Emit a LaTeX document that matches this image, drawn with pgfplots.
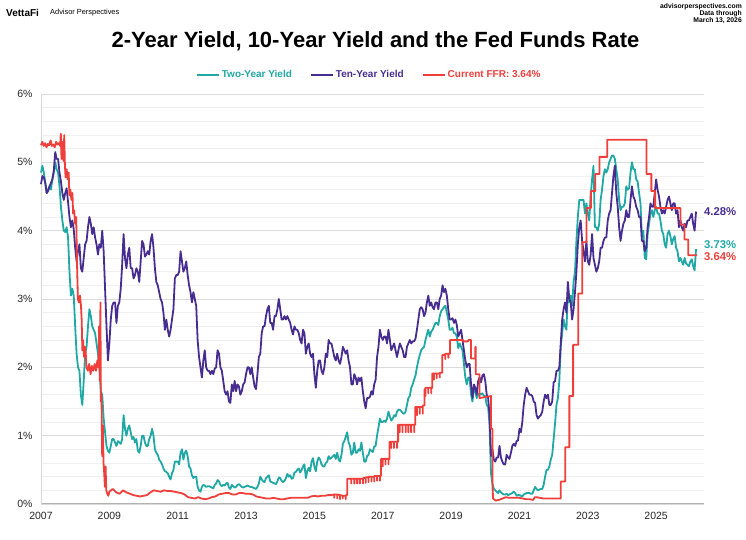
\documentclass[border=0pt]{standalone}
\usepackage{fontspec}
\setmainfont{Liberation Sans}
\usepackage{pgfplots}
\usepackage{pgfplotstable}
\pgfplotsset{compat=1.18}
\definecolor{cteal}{RGB}{32,168,165}
\definecolor{cpurple}{RGB}{72,45,145}
\definecolor{cred}{RGB}{240,62,58}

% Ten-year yield, semi-monthly from Jan 2007
\pgfplotstableread[row sep=\\]{y\\
4.68\\4.80\\4.78\\4.70\\4.55\\4.58\\4.65\\4.70\\4.75\\4.88\\5.15\\5.05\\5.05\\4.85\\4.72\\4.55\\4.45\\4.55\\4.62\\4.42\\4.20\\4.05\\4.15\\4.02\\
3.75\\3.55\\3.70\\3.80\\3.45\\3.40\\3.60\\3.80\\3.85\\4.05\\4.20\\4.10\\3.95\\4.05\\3.90\\3.80\\3.65\\3.80\\3.75\\4.00\\3.70\\3.15\\2.60\\2.10\\
2.35\\2.70\\2.90\\2.95\\2.95\\2.65\\2.90\\2.95\\3.15\\3.50\\3.95\\3.60\\3.45\\3.65\\3.75\\3.45\\3.45\\3.30\\3.35\\3.45\\3.40\\3.25\\3.55\\3.85\\
3.80\\3.62\\3.65\\3.70\\3.65\\3.85\\3.95\\3.75\\3.45\\3.25\\3.20\\3.10\\3.00\\2.95\\2.80\\2.55\\2.70\\2.55\\2.45\\2.55\\2.70\\2.85\\3.30\\3.35\\
3.35\\3.40\\3.70\\3.55\\3.40\\3.45\\3.55\\3.35\\3.20\\3.10\\2.95\\3.10\\3.00\\2.90\\2.40\\2.15\\2.00\\1.85\\2.10\\2.25\\2.00\\1.95\\1.95\\1.90\\
1.95\\1.90\\1.98\\2.00\\2.25\\2.20\\2.00\\1.95\\1.80\\1.65\\1.60\\1.65\\1.50\\1.48\\1.75\\1.65\\1.80\\1.65\\1.75\\1.72\\1.60\\1.65\\1.75\\1.78\\
1.90\\2.00\\2.00\\1.90\\2.00\\1.85\\1.72\\1.68\\1.90\\2.15\\2.20\\2.50\\2.60\\2.60\\2.75\\2.85\\2.90\\2.65\\2.65\\2.55\\2.75\\2.75\\2.85\\3.00\\
2.85\\2.70\\2.70\\2.75\\2.70\\2.75\\2.70\\2.65\\2.55\\2.48\\2.60\\2.55\\2.55\\2.50\\2.40\\2.35\\2.55\\2.50\\2.20\\2.30\\2.35\\2.20\\2.15\\2.20\\
1.90\\1.70\\1.95\\2.10\\2.10\\1.95\\1.90\\2.00\\2.20\\2.15\\2.40\\2.35\\2.35\\2.25\\2.15\\2.10\\2.20\\2.10\\2.05\\2.15\\2.30\\2.25\\2.20\\2.25\\
2.10\\2.00\\1.75\\1.75\\1.90\\1.85\\1.75\\1.85\\1.80\\1.85\\1.65\\1.50\\1.40\\1.55\\1.55\\1.57\\1.65\\1.60\\1.75\\1.82\\2.15\\2.30\\2.55\\2.45\\
2.40\\2.45\\2.45\\2.35\\2.55\\2.40\\2.25\\2.30\\2.35\\2.25\\2.15\\2.25\\2.35\\2.30\\2.25\\2.15\\2.15\\2.30\\2.35\\2.40\\2.35\\2.38\\2.38\\2.42\\
2.55\\2.70\\2.85\\2.88\\2.85\\2.75\\2.80\\2.95\\3.05\\2.90\\2.95\\2.88\\2.85\\2.95\\2.95\\2.85\\3.00\\3.05\\3.20\\3.10\\3.15\\3.05\\2.85\\2.70\\
2.70\\2.72\\2.65\\2.70\\2.62\\2.45\\2.50\\2.55\\2.40\\2.25\\2.10\\2.00\\2.05\\2.05\\1.75\\1.55\\1.75\\1.70\\1.60\\1.80\\1.85\\1.78\\1.88\\1.90\\
1.80\\1.60\\1.55\\1.30\\0.70\\0.80\\0.65\\0.62\\0.68\\0.68\\0.85\\0.68\\0.62\\0.58\\0.58\\0.72\\0.68\\0.66\\0.75\\0.85\\0.88\\0.85\\0.92\\0.93\\
1.10\\1.05\\1.20\\1.45\\1.60\\1.70\\1.65\\1.60\\1.60\\1.58\\1.50\\1.48\\1.30\\1.25\\1.28\\1.30\\1.35\\1.50\\1.60\\1.55\\1.60\\1.45\\1.45\\1.50\\
1.78\\1.80\\1.95\\1.95\\2.00\\2.35\\2.70\\2.85\\2.95\\2.80\\3.25\\3.00\\2.95\\2.70\\2.85\\3.10\\3.40\\3.80\\4.05\\4.15\\3.85\\3.70\\3.55\\3.85\\
3.55\\3.50\\3.65\\3.95\\3.60\\3.50\\3.40\\3.45\\3.55\\3.75\\3.75\\3.85\\3.90\\3.90\\4.15\\4.25\\4.30\\4.55\\4.80\\4.95\\4.55\\4.35\\4.05\\3.85\\
4.00\\4.10\\4.15\\4.30\\4.20\\4.20\\4.45\\4.65\\4.50\\4.45\\4.35\\4.30\\4.20\\4.20\\3.85\\3.85\\3.70\\3.75\\4.05\\4.20\\4.40\\4.35\\4.35\\4.55\\
4.75\\4.60\\4.50\\4.35\\4.25\\4.30\\4.25\\4.35\\4.45\\4.50\\4.40\\4.30\\4.40\\4.40\\4.25\\4.30\\4.05\\4.15\\4.05\\4.00\\4.10\\4.05\\4.15\\4.15\\
4.20\\4.25\\4.10\\4.00\\4.28\\
}\tenyr

% Two-year yield, semi-monthly from Jan 2007
\pgfplotstableread[row sep=\\]{y\\
4.85\\4.95\\4.85\\4.70\\4.55\\4.60\\4.65\\4.60\\4.75\\4.85\\5.00\\4.90\\4.85\\4.65\\4.35\\4.15\\4.00\\3.98\\4.05\\3.90\\3.40\\3.05\\3.15\\3.05\\
2.60\\2.20\\2.00\\1.95\\1.60\\1.45\\1.80\\2.20\\2.30\\2.60\\2.85\\2.75\\2.60\\2.55\\2.50\\2.35\\2.20\\2.00\\1.65\\1.60\\1.25\\1.05\\0.85\\0.78\\
0.75\\0.85\\0.95\\0.95\\0.90\\0.85\\0.92\\0.90\\0.88\\0.95\\1.30\\1.10\\1.00\\1.10\\1.15\\1.05\\0.95\\0.98\\0.90\\0.95\\0.78\\0.75\\0.85\\1.00\\
1.00\\0.90\\0.85\\0.85\\0.95\\1.00\\1.10\\1.00\\0.80\\0.75\\0.72\\0.65\\0.62\\0.58\\0.52\\0.48\\0.47\\0.45\\0.40\\0.36\\0.45\\0.50\\0.62\\0.62\\
0.62\\0.58\\0.75\\0.80\\0.65\\0.75\\0.78\\0.70\\0.55\\0.52\\0.42\\0.38\\0.40\\0.40\\0.25\\0.20\\0.18\\0.25\\0.28\\0.27\\0.25\\0.26\\0.26\\0.25\\
0.24\\0.23\\0.28\\0.30\\0.35\\0.33\\0.28\\0.26\\0.28\\0.27\\0.30\\0.31\\0.24\\0.22\\0.28\\0.26\\0.24\\0.25\\0.28\\0.29\\0.27\\0.25\\0.24\\0.25\\
0.26\\0.27\\0.26\\0.25\\0.25\\0.24\\0.23\\0.22\\0.25\\0.30\\0.40\\0.36\\0.33\\0.32\\0.38\\0.40\\0.42\\0.33\\0.32\\0.31\\0.30\\0.29\\0.33\\0.39\\
0.38\\0.34\\0.32\\0.34\\0.38\\0.44\\0.40\\0.42\\0.37\\0.38\\0.46\\0.47\\0.50\\0.52\\0.46\\0.50\\0.55\\0.58\\0.38\\0.48\\0.53\\0.48\\0.62\\0.67\\
0.55\\0.48\\0.62\\0.68\\0.65\\0.58\\0.55\\0.55\\0.60\\0.62\\0.70\\0.66\\0.68\\0.70\\0.72\\0.66\\0.75\\0.65\\0.62\\0.72\\0.88\\0.92\\0.98\\1.05\\
0.90\\0.85\\0.72\\0.75\\0.90\\0.75\\0.75\\0.80\\0.78\\0.90\\0.75\\0.62\\0.62\\0.70\\0.72\\0.80\\0.78\\0.76\\0.84\\0.85\\1.00\\1.12\\1.25\\1.20\\
1.20\\1.22\\1.20\\1.25\\1.35\\1.28\\1.22\\1.25\\1.30\\1.28\\1.35\\1.38\\1.38\\1.36\\1.33\\1.32\\1.35\\1.45\\1.55\\1.58\\1.70\\1.75\\1.82\\1.88\\
2.00\\2.10\\2.18\\2.25\\2.28\\2.30\\2.40\\2.48\\2.55\\2.45\\2.52\\2.55\\2.60\\2.65\\2.65\\2.62\\2.75\\2.82\\2.85\\2.88\\2.90\\2.80\\2.70\\2.55\\
2.55\\2.58\\2.50\\2.50\\2.45\\2.28\\2.35\\2.30\\2.25\\2.05\\1.85\\1.75\\1.85\\1.85\\1.60\\1.50\\1.70\\1.65\\1.55\\1.60\\1.62\\1.60\\1.62\\1.58\\
1.58\\1.45\\1.42\\1.15\\0.45\\0.30\\0.22\\0.20\\0.18\\0.16\\0.20\\0.17\\0.15\\0.14\\0.14\\0.15\\0.13\\0.14\\0.15\\0.16\\0.18\\0.16\\0.12\\0.13\\
0.13\\0.12\\0.11\\0.14\\0.15\\0.16\\0.16\\0.16\\0.15\\0.15\\0.20\\0.25\\0.22\\0.20\\0.21\\0.22\\0.22\\0.28\\0.40\\0.50\\0.50\\0.55\\0.65\\0.72\\
0.95\\1.18\\1.45\\1.55\\1.80\\2.30\\2.50\\2.70\\2.60\\2.55\\3.10\\2.95\\3.05\\2.90\\3.25\\3.40\\3.85\\4.20\\4.45\\4.45\\4.45\\4.45\\4.25\\4.40\\
4.25\\4.15\\4.50\\4.75\\4.95\\4.05\\4.05\\4.00\\4.10\\4.45\\4.60\\4.80\\4.90\\4.85\\4.90\\5.00\\5.05\\5.10\\5.10\\5.05\\4.90\\4.75\\4.45\\4.30\\
4.35\\4.35\\4.40\\4.65\\4.60\\4.62\\4.85\\5.00\\4.90\\4.90\\4.75\\4.72\\4.55\\4.40\\3.90\\4.00\\3.60\\3.58\\3.95\\4.10\\4.25\\4.30\\4.20\\4.30\\
4.35\\4.25\\4.25\\4.15\\4.00\\3.95\\3.80\\3.75\\3.95\\4.00\\3.92\\3.80\\3.88\\3.92\\3.75\\3.70\\3.55\\3.60\\3.55\\3.50\\3.60\\3.52\\3.50\\3.48\\
3.55\\3.58\\3.48\\3.42\\3.73\\
}\twoyr

% Fed funds rate
\pgfplotstableread{
x y
2007.00 5.25
2007.04 5.30
2007.08 5.24
2007.12 5.28
2007.16 5.22
2007.20 5.27
2007.24 5.25
2007.28 5.32
2007.32 5.24
2007.36 5.26
2007.40 5.22
2007.44 5.30
2007.48 5.26
2007.52 5.28
2007.56 5.24
2007.58 5.42
2007.60 5.05
2007.62 5.30
2007.64 5.10
2007.66 5.02
2007.68 5.40
2007.70 4.95
2007.72 4.78
2007.75 4.90
2007.78 4.75
2007.81 4.85
2007.83 4.52
2007.86 4.60
2007.89 4.45
2007.92 4.55
2007.94 4.25
2007.97 4.30
2008.00 4.10
2008.03 4.20
2008.055 3.50
2008.07 3.20
2008.08 3.00
2008.11 2.95
2008.14 3.05
2008.17 2.90
2008.19 2.70
2008.21 2.25
2008.23 2.40
2008.26 2.15
2008.29 2.30
2008.31 2.20
2008.33 2.00
2008.37 1.95
2008.41 2.05
2008.45 1.90
2008.49 2.02
2008.53 1.95
2008.57 2.05
2008.61 1.95
2008.65 2.10
2008.68 2.00
2008.70 2.60
2008.72 1.80
2008.74 2.95
2008.75 1.50
2008.77 1.60
2008.79 0.70
2008.81 1.15
2008.83 0.60
2008.85 0.45
2008.87 0.25
2008.89 0.55
2008.91 0.20
2008.94 0.15
2008.97 0.12
2009.00 0.18
2009.10 0.22
2009.20 0.17
2009.30 0.15
2009.40 0.20
2009.50 0.17
2009.60 0.15
2009.70 0.13
2009.80 0.12
2009.90 0.11
2010.00 0.12
2010.10 0.13
2010.20 0.17
2010.30 0.20
2010.40 0.19
2010.50 0.18
2010.60 0.20
2010.70 0.19
2010.80 0.19
2010.90 0.18
2011.00 0.17
2011.10 0.16
2011.20 0.14
2011.30 0.10
2011.40 0.09
2011.50 0.08
2011.60 0.10
2011.70 0.08
2011.80 0.07
2011.90 0.08
2012.00 0.10
2012.10 0.11
2012.20 0.14
2012.30 0.15
2012.40 0.16
2012.50 0.16
2012.60 0.14
2012.70 0.14
2012.80 0.16
2012.90 0.16
2013.00 0.15
2013.10 0.15
2013.20 0.14
2013.30 0.11
2013.40 0.10
2013.50 0.09
2013.60 0.08
2013.70 0.08
2013.80 0.09
2013.90 0.08
2014.00 0.07
2014.10 0.07
2014.20 0.08
2014.30 0.09
2014.40 0.09
2014.50 0.09
2014.60 0.09
2014.70 0.09
2014.80 0.09
2014.90 0.11
2015.00 0.12
2015.10 0.11
2015.20 0.12
2015.30 0.12
2015.40 0.13
2015.50 0.13
2015.58 0.14
2015.58 0.09
2015.58 0.14
2015.67 0.14
2015.67 0.08
2015.67 0.14
2015.75 0.13
2015.75 0.07
2015.75 0.13
2015.83 0.12
2015.83 0.08
2015.83 0.12
2015.92 0.12
2015.92 0.07
2015.92 0.13
2015.96 0.13
2015.96 0.37
2016.08 0.37
2016.08 0.30
2016.08 0.37
2016.17 0.37
2016.17 0.30
2016.17 0.37
2016.25 0.37
2016.25 0.30
2016.25 0.37
2016.33 0.37
2016.33 0.30
2016.33 0.37
2016.42 0.37
2016.42 0.30
2016.42 0.38
2016.50 0.38
2016.50 0.31
2016.50 0.39
2016.58 0.39
2016.58 0.32
2016.58 0.40
2016.67 0.40
2016.67 0.33
2016.67 0.40
2016.75 0.40
2016.75 0.33
2016.75 0.41
2016.83 0.41
2016.83 0.34
2016.83 0.41
2016.92 0.41
2016.92 0.34
2016.92 0.41
2016.95 0.41
2016.95 0.66
2017.00 0.66
2017.00 0.55
2017.00 0.66
2017.08 0.66
2017.08 0.58
2017.08 0.66
2017.17 0.66
2017.17 0.58
2017.17 0.66
2017.20 0.66
2017.20 0.91
2017.25 0.91
2017.25 0.82
2017.25 0.91
2017.33 0.91
2017.33 0.82
2017.33 0.91
2017.42 0.91
2017.42 0.82
2017.42 0.91
2017.45 0.91
2017.45 1.16
2017.50 1.16
2017.50 1.05
2017.50 1.16
2017.58 1.16
2017.58 1.05
2017.58 1.16
2017.67 1.16
2017.67 1.05
2017.67 1.16
2017.75 1.16
2017.75 1.05
2017.75 1.16
2017.83 1.16
2017.83 1.05
2017.83 1.16
2017.92 1.16
2017.92 1.05
2017.92 1.16
2017.95 1.16
2017.95 1.42
2018.00 1.42
2018.00 1.30
2018.00 1.42
2018.08 1.42
2018.08 1.32
2018.08 1.42
2018.17 1.42
2018.17 1.32
2018.17 1.44
2018.22 1.44
2018.22 1.68
2018.25 1.68
2018.25 1.58
2018.25 1.70
2018.33 1.70
2018.33 1.62
2018.33 1.70
2018.42 1.70
2018.42 1.62
2018.42 1.70
2018.45 1.70
2018.45 1.91
2018.50 1.91
2018.50 1.82
2018.50 1.91
2018.58 1.91
2018.58 1.84
2018.58 1.91
2018.67 1.91
2018.67 1.85
2018.67 1.92
2018.74 1.92
2018.74 2.18
2018.83 2.18
2018.83 2.12
2018.83 2.20
2018.92 2.20
2018.92 2.14
2018.92 2.20
2018.97 2.20
2018.97 2.40
2019.35 2.40
2019.35 2.38
2019.50 2.38
2019.50 2.40
2019.58 2.40
2019.58 2.13
2019.71 2.13
2019.71 2.30
2019.72 2.30
2019.72 1.90
2019.83 1.90
2019.83 1.55
2020.17 1.58
2020.17 1.10
2020.21 1.10
2020.21 0.25
2020.23 0.08
2020.30 0.05
2020.40 0.06
2020.50 0.08
2020.60 0.10
2020.70 0.09
2020.80 0.09
2020.90 0.09
2021.00 0.09
2021.10 0.08
2021.20 0.07
2021.30 0.07
2021.40 0.06
2021.45 0.10
2021.50 0.10
2021.60 0.09
2021.70 0.08
2021.80 0.08
2021.90 0.08
2022.00 0.08
2022.10 0.08
2022.21 0.08
2022.21 0.33
2022.34 0.33
2022.34 0.83
2022.46 0.83
2022.46 1.58
2022.57 1.58
2022.57 2.33
2022.72 2.33
2022.72 3.08
2022.84 3.08
2022.84 3.83
2022.96 3.83
2022.96 4.33
2023.09 4.33
2023.09 4.58
2023.22 4.58
2023.22 4.83
2023.34 4.83
2023.34 5.08
2023.57 5.08
2023.57 5.33
2024.72 5.33
2024.72 4.83
2024.86 4.83
2024.86 4.58
2024.97 4.58
2024.97 4.33
2025.71 4.33
2025.71 4.09
2025.83 4.09
2025.83 3.87
2025.94 3.87
2025.94 3.64
2026.20 3.64
}\ffr

\begin{document}
\begin{tikzpicture}[x=1pt,y=1pt]
\path[use as bounding box] (0,0) rectangle (746,540);
\node[anchor=west, font=\bfseries\fontsize{10}{12}\selectfont, inner sep=0] at (6,527.5) {VettaFi};
\node[anchor=west, font=\fontsize{7.4}{9}\selectfont, inner sep=0] at (50,527.5) {Advisor Perspectives};
\node[anchor=north east, align=right, inner sep=0, font=\bfseries\fontsize{6.8}{7.2}\selectfont] at (742,537) {advisorperspectives.com\\Data through\\March 13, 2026};
\node[font=\bfseries\fontsize{22}{26}\selectfont, inner sep=0] at (375.5,499) {2-Year Yield, 10-Year Yield and the Fed Funds Rate};
\begin{axis}[
  at={(41pt,36pt)}, anchor=south west,
  scale only axis, width=663pt, height=410pt,
  xmin=2007, xmax=2026.4, ymin=0, ymax=6,
  clip=false,
  axis x line*=bottom, axis y line*=left,
  x axis line style={draw=black!30, line width=1pt},
  y axis line style={draw=black!15, line width=0.8pt},
  xtick={2007,2009,...,2025},
  ytick={0,1,...,6},
  minor y tick num=4,
  ymajorgrids, yminorgrids,
  major grid style={draw=black!14, line width=0.9pt},
  minor grid style={draw=black!6, line width=0.7pt},
  tick style={draw=none},
  /pgf/number format/assume math mode=true,
  xticklabel style={/pgf/number format/1000 sep={}, yshift=-5pt},
  yticklabel style={xshift=-5pt},
  yticklabel={\pgfmathprintnumber{\tick}\%},
  ticklabel style={font=\fontsize{10.5}{12}\selectfont, text=black!85},
  legend columns=3,
  legend style={at={(0.495,1)}, anchor=center, yshift=19pt, draw=none, fill=none,
    font=\bfseries\fontsize{10}{12}\selectfont,
    /tikz/every even column/.append style={column sep=16pt}},
  legend image code/.code={\draw[#1, line width=2pt] (0pt,0pt) -- (22pt,0pt);},
  every axis plot/.append style={line width=1.8pt, line join=round},
]
\addplot[cteal] table[x expr=2007+\coordindex/24, y=y] {\twoyr};
\addlegendentry{\textcolor{cteal}{Two-Year Yield}}
\addplot[cpurple] table[x expr=2007+\coordindex/24, y=y] {\tenyr};
\addlegendentry{\textcolor{cpurple}{Ten-Year Yield}}
\addplot[cred] table[x=x, y=y] {\ffr};
\addlegendentry{\textcolor{cred}{Current FFR: 3.64\%}}
\node[anchor=west, inner sep=0, text=cpurple, font=\bfseries\fontsize{11.3}{13}\selectfont] at (axis cs:2026.4,4.28) {4.28\%};
\node[anchor=west, inner sep=0, text=cteal, font=\bfseries\fontsize{11.3}{13}\selectfont] at (axis cs:2026.4,3.79) {3.73\%};
\node[anchor=west, inner sep=0, text=cred, font=\bfseries\fontsize{11.3}{13}\selectfont] at (axis cs:2026.4,3.62) {3.64\%};
\end{axis}
\end{tikzpicture}
\end{document}
